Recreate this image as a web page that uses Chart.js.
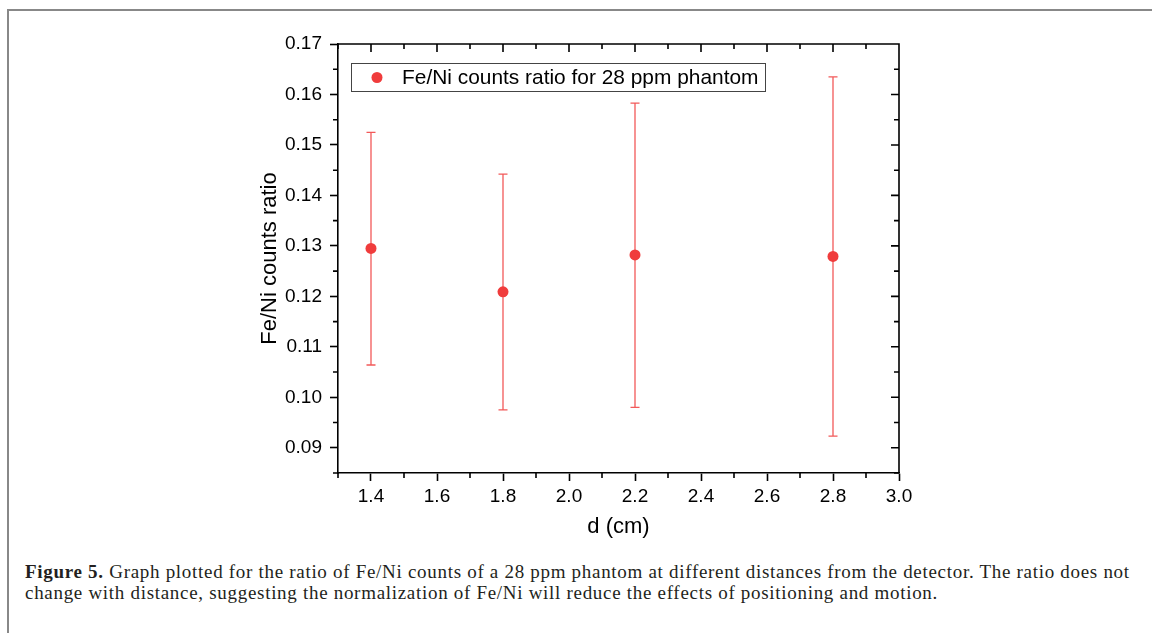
<!DOCTYPE html>
<html>
<head>
<meta charset="utf-8">
<script src="https://cdn.jsdelivr.net/npm/chart.js@4/dist/chart.umd.min.js"></script>
<style>
    body { margin: 0; background: #fff; width: 1152px; height: 633px; overflow: hidden; position: relative; }
    #frame { position: absolute; left: 7px; top: 9px; width: 1160px; height: 640px; border-top: 2px solid #888; border-left: 2px solid #888; }
    #chart_holder { position: absolute; left: 0; top: 0; width: 1152px; height: 540px; }
    #caption { position: absolute; left: 25px; top: 561px; font-family: "Liberation Serif", serif; font-size: 19px; letter-spacing: 0.7px; line-height: 21px; color: #231f20; white-space: nowrap; }
</style>
</head>
<body>
<div id="frame"></div>
<div id="chart_holder"><canvas id="ratio_chart" width="1152" height="540"></canvas></div>
<div id="caption"><b>Figure 5.</b> Graph plotted for the ratio of Fe/Ni counts of a 28 ppm phantom at different distances from the detector. The ratio does not<br>change with distance, suggesting the normalization of Fe/Ni will reduce the effects of positioning and motion.</div>
<script>
// values
var series_label = "Fe/Ni counts ratio for 28 ppm phantom";
var distances = [1.4, 1.8, 2.2, 2.8];
var ratios = [0.1295, 0.1209, 0.1282, 0.1279];
var err_low = [0.1064, 0.0975, 0.0980, 0.0923];
var err_high = [0.1525, 0.1442, 0.1583, 0.1635];
var x_ticks = [1.4, 1.6, 1.8, 2.0, 2.2, 2.4, 2.6, 2.8, 3.0];
var y_ticks = [0.09, 0.10, 0.11, 0.12, 0.13, 0.14, 0.15, 0.16, 0.17];
var x_minor = [1.3, 1.5, 1.7, 1.9, 2.1, 2.3, 2.5, 2.7, 2.9];
var y_minor = [0.085, 0.095, 0.105, 0.115, 0.125, 0.135, 0.145, 0.155, 0.165];

var red = "#f03c3c";
var bar_red = "rgba(240,60,60,0.85)";

var points = distances.map(function(d, i){ return {x: d, y: ratios[i]}; });

// error bars, minor ticks, top/right axis and the legend box
var extras_plugin = {
    id: "extras",
    beforeDatasetsDraw: function(chart){
        var ctx = chart.ctx;
        var xs = chart.scales.x, ys = chart.scales.y;
        ctx.save();
        ctx.strokeStyle = bar_red;
        ctx.lineWidth = 1.3;
        for(var i = 0; i < distances.length; i++){
            var px = xs.getPixelForValue(distances[i]);
            var top = ys.getPixelForValue(err_high[i]);
            var bot = ys.getPixelForValue(err_low[i]);
            ctx.beginPath();
            ctx.moveTo(px, top); ctx.lineTo(px, bot);
            ctx.moveTo(px - 4.5, top); ctx.lineTo(px + 4.5, top);
            ctx.moveTo(px - 4.5, bot); ctx.lineTo(px + 4.5, bot);
            ctx.stroke();
        }
        ctx.restore();
    },
    afterDraw: function(chart){
        var ctx = chart.ctx;
        var a = chart.chartArea;
        var xs = chart.scales.x, ys = chart.scales.y;
        ctx.save();
        ctx.strokeStyle = "#000";
        ctx.lineWidth = 1.6;
        ctx.beginPath();
        // frame
        ctx.moveTo(a.left, a.top); ctx.lineTo(a.right, a.top); ctx.lineTo(a.right, a.bottom);
        // top axis major ticks (inward)
        x_ticks.forEach(function(v){ var p = xs.getPixelForValue(v); ctx.moveTo(p, a.top); ctx.lineTo(p, a.top + 8); });
        x_minor.forEach(function(v){ var p = xs.getPixelForValue(v); ctx.moveTo(p, a.top); ctx.lineTo(p, a.top + 5); ctx.moveTo(p, a.bottom); ctx.lineTo(p, a.bottom + 5); });
        // right axis ticks (inward)
        y_ticks.forEach(function(v){ var p = ys.getPixelForValue(v); ctx.moveTo(a.right, p); ctx.lineTo(a.right - 8, p); });
        y_minor.forEach(function(v){ var p = ys.getPixelForValue(v); ctx.moveTo(a.right, p); ctx.lineTo(a.right - 5, p); ctx.moveTo(a.left, p); ctx.lineTo(a.left - 5, p); });
        ctx.stroke();

        // legend
        ctx.strokeStyle = "#444";
        ctx.lineWidth = 1;
        ctx.strokeRect(351.5, 63.5, 414, 28);
        ctx.fillStyle = red;
        ctx.beginPath();
        ctx.arc(377, 77.5, 5.5, 0, Math.PI * 2);
        ctx.fill();
        ctx.fillStyle = "#000";
        ctx.font = "20.9px 'Liberation Sans', Arial, sans-serif";
        ctx.textBaseline = "middle";
        ctx.fillText(series_label, 402, 78);
        ctx.restore();
    }
};

var ctx = document.getElementById("ratio_chart").getContext("2d");
var the_chart = new Chart(ctx, {
    type: "scatter",
    data: {
        datasets: [{
            label: series_label,
            data: points,
            backgroundColor: red,
            borderColor: red,
            pointRadius: 5.5,
            pointHoverRadius: 5.5,
            borderWidth: 0
        }]
    },
    options: {
        responsive: false,
        animation: false,
        layout: { padding: { left: 257, right: 253, top: 44, bottom: 0 } },
        plugins: { legend: { display: false }, tooltip: { enabled: false } },
        scales: {
            x: {
                type: "linear",
                min: 1.3, max: 3.0,
                afterBuildTicks: function(scale){ scale.ticks = x_ticks.map(function(v){ return {value: v}; }); },
                afterFit: function(scale){ scale.height = 67; },
                grid: { drawOnChartArea: false, tickLength: 8, tickWidth: 1.6, tickColor: "#000" },
                border: { color: "#000", width: 1.6 },
                ticks: {
                    color: "#000", padding: 4,
                    font: { family: "'Liberation Sans', Arial", size: 19 },
                    callback: function(v){ return v.toFixed(1); }
                },
                title: { display: true, text: "d (cm)", color: "#000", padding: 0, font: { family: "'Liberation Sans', Arial", size: 22 } }
            },
            y: {
                type: "linear",
                min: 0.085, max: 0.17,
                afterBuildTicks: function(scale){ scale.ticks = y_ticks.map(function(v){ return {value: v}; }); },
                afterFit: function(scale){ scale.width = 81; },
                grid: { drawOnChartArea: false, tickLength: 8, tickWidth: 1.6, tickColor: "#000" },
                border: { color: "#000", width: 1.6 },
                ticks: {
                    color: "#000", padding: 8,
                    font: { family: "'Liberation Sans', Arial", size: 19 },
                    callback: function(v){ return v.toFixed(2); }
                },
                title: { display: true, text: "Fe/Ni counts ratio", color: "#000", padding: 0, font: { family: "'Liberation Sans', Arial", size: 22 } }
            }
        }
    },
    plugins: [extras_plugin]
});
</script>
</body>
</html>
